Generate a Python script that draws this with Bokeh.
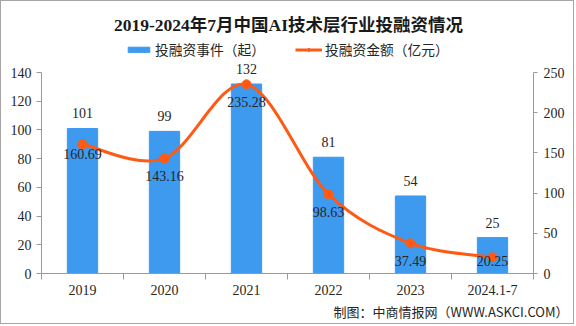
from bokeh.plotting import figure
from bokeh.models import (ColumnDataSource, Range1d, LinearAxis, FixedTicker,
                          Label, Legend, LegendItem, Title)
from bokeh.core.properties import value
from bokeh.embed import file_html
from bokeh.resources import INLINE

# ---- data ----
categories = ["2019", "2020", "2021", "2022", "2023", "2024.1-7"]
deal_counts = [101, 99, 132, 81, 54, 25]
deal_amounts = [160.69, 143.16, 235.28, 98.63, 37.49, 20.25]
left_ticks = [0, 20, 40, 60, 80, 100, 120, 140]
right_ticks = [0, 50, 100, 150, 200, 250]

title_text = "2019-2024年7月中国AI技术层行业投融资情况"
legend_bar = "投融资事件（起）"
legend_line = "投融资金额（亿元）"
footer_text = "制图：中商情报网（WWW.ASKCI.COM）"

# ---- style ----
BAR_COLOR = "#3D9AEF"
LINE_COLOR = "#FF5A14"
AXIS_COLOR = "#9A9A9A"
TEXT_COLOR = "#262626"
SERIF = "'Liberation Serif', 'Noto Sans CJK SC'"
CJK = "'Noto Sans CJK SC', 'Liberation Serif'"
line_label_dy = [10, 18, 18, 18, 18, 4]   # px below point (label placement)

W, H = 574, 324
FRAME_H = 272          # frame spans from top of canvas down to the x axis
AXIS_H = 201           # pixel height of the value axes
n = len(categories)
xs = [i + 0.5 for i in range(n)]
lmax, rmax = left_ticks[-1], right_ticks[-1]

p = figure(width=W, height=H, output_backend="svg", toolbar_location=None,
           x_range=Range1d(0, n), y_range=Range1d(0, lmax * FRAME_H / AXIS_H),
           min_border_left=40, min_border_right=42, min_border_top=0,
           min_border_bottom=H - FRAME_H, title=None)
p.styles = {"border": "1px solid #A6A6A6"}
p.extra_y_ranges = {"amt": Range1d(0, rmax * FRAME_H / AXIS_H)}
p.xgrid.visible = False
p.ygrid.visible = False
p.outline_line_color = None
p.background_fill_color = "white"
p.border_fill_color = "white"

# bars
bar_src = ColumnDataSource(dict(x=xs, top=deal_counts,
                                lbl=[str(v) for v in deal_counts]))
bars = p.vbar(x="x", top="top", width=0.37, bottom=0, source=bar_src,
              fill_color=BAR_COLOR, line_color=BAR_COLOR)
p.text(x="x", y="top", text="lbl", source=bar_src, text_align="center",
       text_baseline="middle", y_offset=-15, text_font=value(SERIF),
       text_font_size="14px", text_color=TEXT_COLOR)

# smooth line (Bezier segments through the data points)
P = list(zip(xs, deal_amounts))
x0, y0, x1, y1, cx0, cy0, cx1, cy1 = [], [], [], [], [], [], [], []
for i in range(n - 1):
    pm = P[i - 1] if i > 0 else P[i]
    pa, pb = P[i], P[i + 1]
    pn = P[i + 2] if i + 2 < n else P[i + 1]
    x0.append(pa[0]); y0.append(pa[1]); x1.append(pb[0]); y1.append(pb[1])
    cx0.append(pa[0] + (pb[0] - pm[0]) / 6); cy0.append(pa[1] + (pb[1] - pm[1]) / 6)
    cx1.append(pb[0] - (pn[0] - pa[0]) / 6); cy1.append(pb[1] - (pn[1] - pa[1]) / 6)
bz_src = ColumnDataSource(dict(x0=x0, y0=y0, x1=x1, y1=y1,
                               cx0=cx0, cy0=cy0, cx1=cx1, cy1=cy1))
curve = p.bezier(x0="x0", y0="y0", x1="x1", y1="y1", cx0="cx0", cy0="cy0",
                 cx1="cx1", cy1="cy1", source=bz_src, y_range_name="amt",
                 line_color=LINE_COLOR, line_width=3)

line_src = ColumnDataSource(dict(x=xs, y=deal_amounts,
                                 lbl=[f"{v:.2f}" for v in deal_amounts],
                                 dy=line_label_dy))
dots = p.scatter(x="x", y="y", source=line_src, y_range_name="amt", size=9,
                 fill_color=LINE_COLOR, line_color=LINE_COLOR)
p.text(x="x", y="y", text="lbl", source=line_src, y_range_name="amt",
       text_align="center", text_baseline="middle", y_offset="dy",
       text_font=value(SERIF), text_font_size="14px", text_color=TEXT_COLOR)

# legend
legend = Legend(items=[LegendItem(label=legend_bar, renderers=[bars]),
                       LegendItem(label=legend_line, renderers=[curve, dots])],
                orientation="horizontal", location=(84, FRAME_H - 58),
                glyph_width=27, glyph_height=7, label_height=7,
                label_standoff=3, spacing=30, padding=0, margin=0,
                border_line_color=None, background_fill_alpha=0,
                label_text_font=CJK, label_text_font_size="13.75px",
                label_text_color=TEXT_COLOR, label_text_baseline="middle")
p.add_layout(legend, "center")

# axes
ax = p.xaxis[0]
ax.ticker = FixedTicker(ticks=xs, minor_ticks=list(range(n + 1)))
ax.major_label_overrides = {x: c for x, c in zip(xs, categories)}
ax.major_tick_line_color = None
ax.major_tick_out = 0
ax.minor_tick_in = 0
ax.minor_tick_out = 6
ax.minor_tick_line_color = AXIS_COLOR
ax.axis_line_color = AXIS_COLOR
ax.major_label_standoff = 5
ax.major_label_text_font = SERIF
ax.major_label_text_font_size = "14px"
ax.major_label_text_color = TEXT_COLOR

ly = p.yaxis[0]
ly.ticker = FixedTicker(ticks=left_ticks)
ly.bounds = (left_ticks[0], lmax)
ly.minor_tick_line_color = None
ly.major_tick_in = 0
ly.major_tick_out = 5
ly.major_label_standoff = 5
ly.axis_line_color = AXIS_COLOR
ly.major_tick_line_color = AXIS_COLOR
ly.major_label_text_font = SERIF
ly.major_label_text_font_size = "14px"
ly.major_label_text_color = TEXT_COLOR

ry = LinearAxis(y_range_name="amt", ticker=FixedTicker(ticks=right_ticks),
                bounds=(right_ticks[0], rmax))
ry.minor_tick_line_color = None
ry.major_tick_in = 0
ry.major_tick_out = 4
ry.major_label_standoff = 6
ry.axis_line_color = AXIS_COLOR
ry.major_tick_line_color = AXIS_COLOR
ry.major_label_text_font = SERIF
ry.major_label_text_font_size = "14px"
ry.major_label_text_color = TEXT_COLOR
p.add_layout(ry, "right")

# title (inside the frame area) & footer (below panel)
p.add_layout(Label(x=247, y=FRAME_H - 23.5, x_units="screen", y_units="screen",
                   text=title_text, text_align="center", text_baseline="middle",
                   text_font=SERIF, text_font_size="17.5px", text_font_style="bold",
                   text_color="#1a1a1a"))
p.add_layout(Title(text=footer_text, align="right", offset=-35, standoff=5,
                   text_font=CJK, text_font_size="13px", text_font_style="normal",
                   text_color=TEXT_COLOR), "below")

open("out.html", "w").write(file_html(p, INLINE))
